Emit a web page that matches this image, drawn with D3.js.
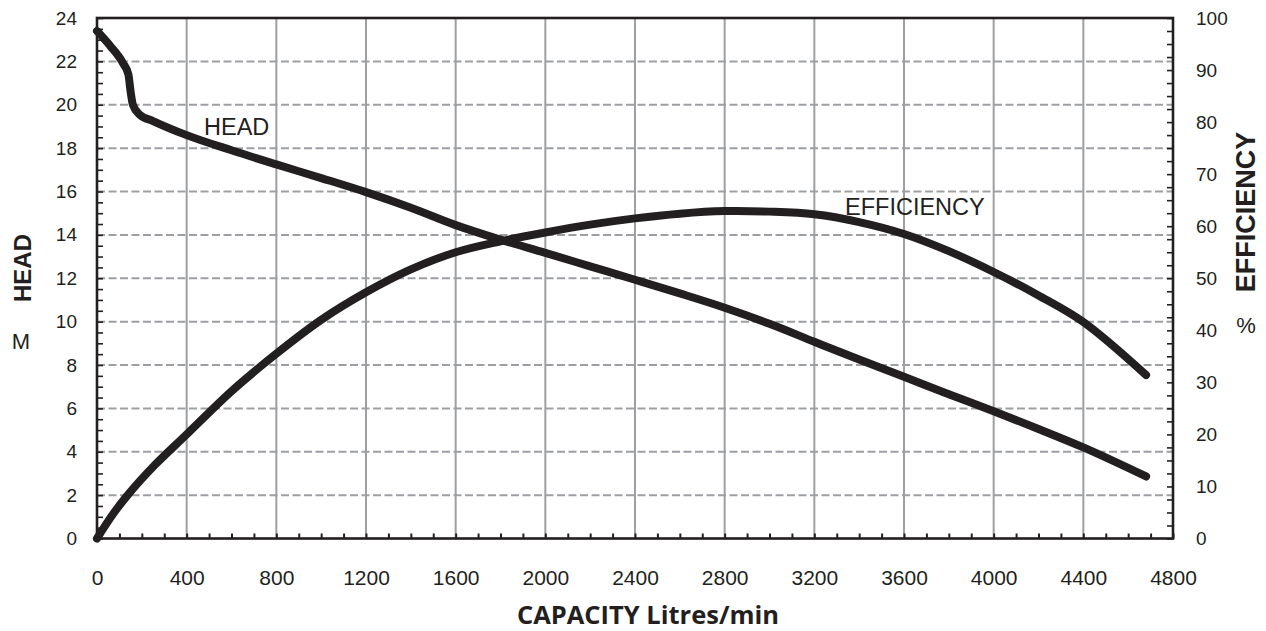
<!DOCTYPE html>
<html>
<head>
<meta charset="utf-8">
<script src="https://cdn.jsdelivr.net/npm/d3@7/dist/d3.min.js"></script>
<style>
  html, body { margin: 0; padding: 0; background: #fff; }
  svg { display: block; }
</style>
</head>
<body>
<svg id="chart" width="1266" height="631"></svg>
<script>
// ---- Data ----
const headCapacity = [0, 60, 117, 140, 150, 160, 190, 250, 400, 600, 800, 1000, 1200, 1400, 1600, 1800, 2000, 2200, 2400, 2600, 2800, 3000, 3200, 3400, 3600, 3800, 4000, 4200, 4400, 4680];
const headValues   = [23.4, 22.7, 21.9, 21.4, 20.6, 20.0, 19.55, 19.25, 18.6, 17.9, 17.25, 16.62, 15.97, 15.25, 14.45, 13.78, 13.17, 12.55, 11.93, 11.3, 10.64, 9.9, 9.07, 8.25, 7.46, 6.65, 5.87, 5.05, 4.2, 2.86];

const effCapacity = [0, 70, 134, 260, 400, 600, 800, 1000, 1200, 1400, 1600, 1800, 2000, 2200, 2400, 2600, 2800, 3000, 3200, 3400, 3600, 3800, 4000, 4200, 4400, 4680];
const effValues   = [0, 4.6, 8.2, 14.2, 20, 28.3, 35.5, 42, 47.3, 51.7, 55, 57.1, 58.8, 60.3, 61.5, 62.4, 62.9, 62.8, 62.3, 60.8, 58.5, 55.2, 51.2, 46.7, 41.6, 31.4];

const xTicks = [0, 400, 800, 1200, 1600, 2000, 2400, 2800, 3200, 3600, 4000, 4400, 4800];
const headTicks = [0, 2, 4, 6, 8, 10, 12, 14, 16, 18, 20, 22, 24];
const effTicks = [0, 10, 20, 30, 40, 50, 60, 70, 80, 90, 100];

// ---- Layout ----
const L = 97, R = 1173, T = 18, B = 538.5;
const ink = "#231f20";
const gridCol = "#9d9fa2";

const svg = d3.select("#chart");
const x = d3.scaleLinear().domain([0, 4800]).range([L, R]);
const yH = d3.scaleLinear().domain([0, 24]).range([B, T]);
const yE = d3.scaleLinear().domain([0, 100]).range([B, T]);

// Grid
svg.append("g").selectAll("line")
  .data(xTicks.filter(d => d > 0 && d < 4800))
  .join("line")
  .attr("x1", d => x(d)).attr("x2", d => x(d))
  .attr("y1", T).attr("y2", B)
  .attr("stroke", gridCol).attr("stroke-width", 2);

svg.append("g").selectAll("line")
  .data(headTicks.filter(d => d > 0 && d < 24))
  .join("line")
  .attr("x1", L).attr("x2", R)
  .attr("y1", d => yH(d)).attr("y2", d => yH(d))
  .attr("stroke", gridCol).attr("stroke-width", 2)
  .attr("stroke-dasharray", "8,3.5");

// Minor ticks (inward)
const minorX = d3.range(0, 4801, 100);
const minorH = d3.range(0, 24.01, 0.5);
const minorE = d3.range(0, 100.01, 2.5);

svg.append("g").attr("transform", `translate(0,${B})`)
  .call(d3.axisBottom(x).tickValues(minorX).tickSize(-5).tickFormat(""))
  .call(g => g.select(".domain").remove())
  .call(g => g.selectAll("line").attr("stroke", ink).attr("stroke-width", 2));

svg.append("g").attr("transform", `translate(${L},0)`)
  .call(d3.axisLeft(yH).tickValues(minorH).tickSize(-6).tickFormat(""))
  .call(g => g.select(".domain").remove())
  .call(g => g.selectAll("line").attr("stroke", ink).attr("stroke-width", 1.6));

svg.append("g").attr("transform", `translate(${R},0)`)
  .call(d3.axisRight(yE).tickValues(minorE).tickSize(-6).tickFormat(""))
  .call(g => g.select(".domain").remove())
  .call(g => g.selectAll("line").attr("stroke", ink).attr("stroke-width", 1.6));

// Labelled axes
const fontF = "Liberation Sans, Arial, Helvetica, sans-serif";

svg.append("g").attr("transform", `translate(0,${B})`)
  .call(d3.axisBottom(x).tickValues(xTicks).tickSize(0).tickPadding(31.5).tickFormat(d3.format("d")))
  .call(g => g.select(".domain").remove())
  .call(g => g.selectAll("text").attr("fill", ink).style("font-family", fontF).style("font-size", "21px"));

svg.append("g").attr("transform", `translate(${L},0)`)
  .call(d3.axisLeft(yH).tickValues(headTicks).tickSize(0).tickPadding(20).tickFormat(d3.format("d")))
  .call(g => g.select(".domain").remove())
  .call(g => g.selectAll("text").attr("fill", ink).style("font-family", fontF).style("font-size", "19px"));

svg.append("g").attr("transform", `translate(${R},0)`)
  .call(d3.axisRight(yE).tickValues(effTicks).tickSize(0).tickPadding(23).tickFormat(d3.format("d")))
  .call(g => g.select(".domain").remove())
  .call(g => g.selectAll("text").attr("fill", ink).style("font-family", fontF).style("font-size", "19px"));

// Frame
svg.append("rect")
  .attr("x", L).attr("y", T).attr("width", R - L).attr("height", B - T)
  .attr("fill", "none").attr("stroke", ink).attr("stroke-width", 2.6);

// Curves
const headLine = d3.line()
  .x((d, i) => x(headCapacity[i]))
  .y(d => yH(d))
  .curve(d3.curveMonotoneX);
const effLine = d3.line()
  .x((d, i) => x(effCapacity[i]))
  .y(d => yE(d))
  .curve(d3.curveCatmullRom.alpha(0.5));

svg.append("path").attr("d", headLine(headValues))
  .attr("fill", "none").attr("stroke", ink).attr("stroke-width", 8)
  .attr("stroke-linecap", "round").attr("stroke-linejoin", "round");
svg.append("path").attr("d", effLine(effValues))
  .attr("fill", "none").attr("stroke", ink).attr("stroke-width", 8)
  .attr("stroke-linecap", "round").attr("stroke-linejoin", "round");

// In-plot labels
svg.append("text").attr("x", 204).attr("y", 134.5).text("HEAD")
  .attr("fill", ink).style("font-family", fontF).style("font-size", "23.5px");
svg.append("text").attr("x", 845).attr("y", 215).text("EFFICIENCY")
  .attr("fill", ink).style("font-family", fontF).style("font-size", "23.5px");

// Axis titles
svg.append("text").attr("x", 648).attr("y", 624).attr("text-anchor", "middle")
  .text("CAPACITY Litres/min")
  .attr("fill", ink).style("font-family", "Open Sans, sans-serif").style("font-weight", "bold").style("font-size", "25.5px");

svg.append("text").attr("transform", "translate(31,268) rotate(-90)").attr("text-anchor", "middle")
  .text("HEAD")
  .attr("fill", ink).style("font-family", fontF).style("font-weight", "bold").style("font-size", "24px");

svg.append("text").attr("x", 21).attr("y", 349).attr("text-anchor", "middle")
  .text("M")
  .attr("fill", ink).style("font-family", fontF).style("font-size", "22px");

svg.append("text").attr("transform", "translate(1255,212) rotate(-90)").attr("text-anchor", "middle")
  .text("EFFICIENCY")
  .attr("fill", ink).style("font-family", fontF).style("font-weight", "bold").style("font-size", "27px");

svg.append("text").attr("x", 1246).attr("y", 333).attr("text-anchor", "middle")
  .text("%")
  .attr("fill", ink).style("font-family", fontF).style("font-size", "22px");
</script>
</body>
</html>
